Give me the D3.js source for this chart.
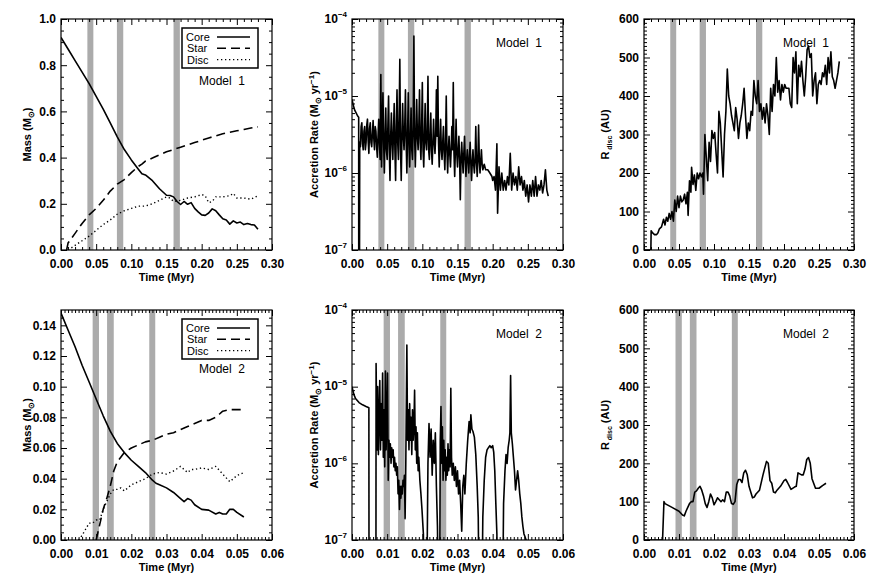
<!DOCTYPE html>
<html><head><meta charset="utf-8">
<script src="https://cdn.jsdelivr.net/npm/d3@7"></script>
<style>body{margin:0;background:#fff}</style>
</head><body>
<svg id="c" width="872" height="581"></svg>
<script>
// ---------------- DATA ----------------
const seriesNames = ["Core", "Star", "Disc"];
const m1Bands = [[0.0375, 0.0460], [0.0795, 0.0885], [0.1600, 0.1690]];
const m2Bands = [[0.0090, 0.0108], [0.0131, 0.0150], [0.0251, 0.0268]];

const m1TimeTicks = [0, 0.05, 0.10, 0.15, 0.20, 0.25, 0.30];
const m2TimeTicks = [0, 0.01, 0.02, 0.03, 0.04, 0.05, 0.06];
const m1MassTicks = [0, 0.2, 0.4, 0.6, 0.8, 1.0];
const m2MassTicks = [0, 0.02, 0.04, 0.06, 0.08, 0.10, 0.12, 0.14];
const rateTicks = [1e-7, 1e-6, 1e-5, 1e-4];
const radiusTicks = [0, 100, 200, 300, 400, 500, 600];

const m1Core = [[0,0.92],[0.01,0.87],[0.02,0.82],[0.03,0.77],[0.04,0.72],[0.05,0.665],[0.06,0.61],[0.07,0.55],[0.08,0.49],[0.09,0.435],[0.10,0.39],[0.11,0.35],[0.115,0.33],[0.12,0.325],[0.13,0.30],[0.14,0.265],[0.15,0.237],[0.155,0.236],[0.16,0.23],[0.165,0.21],[0.17,0.197],[0.175,0.21],[0.18,0.198],[0.185,0.205],[0.19,0.18],[0.195,0.165],[0.20,0.152],[0.205,0.15],[0.21,0.16],[0.215,0.178],[0.22,0.17],[0.225,0.152],[0.23,0.135],[0.235,0.13],[0.24,0.112],[0.245,0.126],[0.25,0.117],[0.255,0.121],[0.26,0.11],[0.265,0.115],[0.27,0.11],[0.275,0.108],[0.28,0.09]];
const m1Star = [[0.008,0],[0.01,0.03],[0.02,0.072],[0.03,0.115],[0.04,0.152],[0.05,0.18],[0.06,0.215],[0.07,0.255],[0.08,0.285],[0.09,0.305],[0.10,0.335],[0.11,0.362],[0.115,0.372],[0.12,0.385],[0.13,0.398],[0.14,0.412],[0.15,0.425],[0.16,0.435],[0.17,0.445],[0.18,0.455],[0.19,0.465],[0.20,0.475],[0.21,0.485],[0.22,0.494],[0.23,0.503],[0.24,0.51],[0.25,0.516],[0.26,0.522],[0.27,0.528],[0.28,0.533]];
const m1Disc = [[0.01,0],[0.02,0.02],[0.03,0.04],[0.04,0.06],[0.05,0.085],[0.06,0.11],[0.07,0.13],[0.08,0.155],[0.09,0.17],[0.10,0.18],[0.11,0.19],[0.12,0.19],[0.13,0.2],[0.14,0.215],[0.15,0.23],[0.155,0.225],[0.16,0.21],[0.17,0.215],[0.18,0.225],[0.19,0.23],[0.20,0.24],[0.205,0.235],[0.21,0.205],[0.215,0.21],[0.22,0.23],[0.23,0.23],[0.24,0.235],[0.245,0.245],[0.25,0.225],[0.26,0.225],[0.27,0.22],[0.28,0.235]];

const m1Rate = [[0,9e-6],[0.002,7.5e-6],[0.004,6.5e-6],[0.006,6e-6],[0.008,5.5e-6],[0.0095,5.3e-6],[0.0096,1e-8],[0.0105,1e-8],[0.011,2.5e-6],
[0.012,2.2e-6],[0.013,4e-6],[0.014,4.5e-6],[0.015,2.4e-6],[0.016,2e-6],[0.017,3.5e-6],[0.018,4e-6],[0.019,2e-6],[0.020,2.5e-6],[0.021,4.2e-6],[0.022,5e-6],[0.023,2.6e-6],[0.024,1.8e-6],[0.025,3.8e-6],[0.026,4.5e-6],[0.027,2.5e-6],[0.028,2.2e-6],[0.029,3.2e-6],[0.030,4.8e-6],[0.031,2.8e-6],[0.032,2e-6],[0.033,4e-6],[0.034,3.5e-6],[0.035,2.2e-6],[0.036,1.6e-6],[0.037,3e-6],[0.038,5e-6],[0.039,2.4e-6],[0.040,1.5e-6],
[0.041,1.9e-5],[0.042,1.2e-6],[0.043,4e-6],[0.044,1.1e-5],[0.045,2.5e-6],[0.046,1e-6],[0.047,3e-6],[0.048,7e-6],[0.049,2e-6],[0.050,1.5e-6],[0.051,4e-6],[0.052,1e-5],[0.053,2e-6],[0.054,8e-7],[0.055,3e-6],[0.056,6e-6],[0.057,2.5e-6],[0.058,1.5e-6],[0.059,3.5e-6],[0.060,8e-6],[0.061,2e-6],[0.062,8e-7],[0.063,4e-6],[0.064,1.2e-5],[0.065,2.5e-6],[0.066,1.5e-6],[0.067,5e-6],[0.068,3e-5],[0.069,2e-6],[0.070,8e-7],[0.071,3e-6],[0.072,8e-6],[0.073,3e-6],[0.074,2e-6],[0.075,4e-6],[0.076,1.2e-5],[0.077,2.5e-6],[0.078,1e-6],[0.079,3e-6],
[0.080,1.1e-5],[0.081,2.5e-6],[0.082,1.2e-6],[0.083,3e-6],[0.084,7e-6],[0.085,2e-6],[0.086,1.5e-6],[0.087,4e-6],[0.088,6e-5],[0.089,3e-6],[0.090,1.2e-6],[0.091,3e-6],[0.092,9e-6],[0.093,3e-6],[0.094,2e-6],[0.095,4e-6],[0.096,1.2e-5],[0.097,2.5e-6],[0.098,1.5e-6],[0.099,4e-6],[0.100,1.5e-5],[0.101,2e-6],[0.102,1.2e-6],[0.103,3e-6],[0.104,8e-6],[0.105,2.5e-6],[0.106,2e-6],[0.107,3.5e-6],[0.108,1.8e-5],[0.109,2e-6],[0.110,1.5e-6],[0.111,3e-6],[0.112,6e-6],[0.113,2e-6],[0.114,1.3e-6],[0.115,2.5e-6],[0.116,5e-6],[0.117,2.5e-6],[0.118,1.8e-6],[0.119,3e-6],[0.120,1.2e-5],[0.121,3e-6],[0.122,1.8e-5],[0.123,2.5e-6],[0.124,1.2e-6],[0.125,2.5e-6],[0.126,5e-6],[0.127,2e-6],[0.128,1.5e-6],[0.129,2.5e-6],
[0.130,4e-6],[0.131,1.8e-6],[0.132,1.1e-6],[0.133,2.5e-6],[0.134,1e-5],[0.135,2e-6],[0.136,1e-6],[0.137,2e-6],[0.138,3e-6],[0.139,1.8e-6],[0.140,1.2e-6],[0.141,2e-6],[0.142,4e-6],[0.143,2e-6],[0.144,1.5e-5],[0.145,1.8e-6],[0.146,9e-7],[0.147,2e-6],[0.148,5e-6],[0.149,1.8e-6],[0.150,1.2e-6],[0.151,2e-6],[0.152,3e-6],[0.153,1.5e-6],[0.154,4.5e-7],[0.155,1.5e-6],[0.156,2.5e-6],[0.157,1.5e-6],[0.158,1e-6],[0.159,1.8e-6],[0.160,3e-6],
[0.161,1.5e-6],[0.162,9e-7],[0.163,1.5e-6],[0.164,2e-6],[0.165,1.4e-6],[0.166,1e-6],[0.167,1.6e-6],[0.168,2.5e-6],[0.169,1.3e-6],[0.170,8e-7],[0.171,1.4e-6],[0.172,2e-6],[0.173,1.3e-6],[0.174,1e-6],[0.175,1.5e-6],[0.176,4e-6],[0.177,1.4e-6],[0.178,9e-7],[0.179,1.5e-6],[0.180,4.2e-6],[0.181,1.5e-6],[0.182,1e-6],[0.183,1.4e-6],[0.184,2e-6],[0.185,1.3e-6],[0.186,1.1e-6],[0.188,1.3e-6],[0.190,1.1e-6],[0.193,1.1e-6],[0.196,1e-6],[0.199,9e-7],
[0.200,8e-7],[0.202,9e-7],[0.204,6e-7],[0.206,2.4e-6],[0.207,3e-7],[0.209,1.2e-6],[0.211,6e-7],[0.213,1e-6],[0.215,6e-7],[0.217,8e-7],[0.219,6e-7],[0.221,9e-7],[0.223,7e-7],[0.225,1.8e-6],[0.227,6e-7],[0.229,1e-6],[0.231,7e-7],[0.233,9e-7],[0.235,6e-7],[0.237,1.2e-6],[0.239,7e-7],[0.241,9e-7],[0.243,6e-7],[0.245,8e-7],[0.247,5e-7],[0.249,7e-7],[0.251,4.2e-7],[0.253,7e-7],[0.255,5e-7],[0.257,8e-7],[0.259,5e-7],[0.261,9e-7],[0.263,5e-7],[0.265,7e-7],[0.267,6e-7],[0.269,8e-7],[0.271,5.5e-7],[0.273,7e-7],[0.275,1.1e-6],[0.277,6e-7],[0.279,5e-7]];

const m1Radius = [[0,0],[0.0098,0],[0.0102,50],[0.012,45],[0.015,40],[0.018,40],[0.02,45],[0.022,55],[0.025,60],[0.028,80],[0.03,65],[0.032,85],[0.034,75],[0.036,95],[0.038,80],[0.040,100],[0.042,75],[0.044,130],[0.046,100],[0.048,140],[0.050,110],[0.052,140],[0.054,125],[0.056,130],[0.058,145],[0.060,120],[0.062,150],[0.063,90],[0.065,180],[0.067,150],[0.068,215],[0.070,170],[0.072,195],[0.074,155],[0.076,200],[0.078,185],[0.080,200],[0.082,190],[0.084,200],[0.085,145],[0.087,300],[0.089,240],[0.091,180],[0.093,280],[0.095,230],[0.097,310],[0.099,290],[0.101,305],[0.103,250],[0.105,200],[0.107,360],[0.109,330],[0.111,260],[0.113,190],[0.115,300],[0.117,360],[0.119,470],[0.121,400],[0.123,380],[0.125,350],[0.127,330],[0.129,310],[0.131,370],[0.133,340],[0.135,290],[0.137,330],[0.139,350],[0.141,380],[0.143,420],[0.145,350],[0.147,290],[0.149,330],[0.151,310],[0.153,360],[0.155,350],[0.157,440],[0.159,400],[0.161,380],[0.163,440],[0.165,360],[0.167,380],[0.169,340],[0.171,370],[0.173,330],[0.175,380],[0.177,350],[0.179,300],[0.181,420],[0.183,360],[0.185,430],[0.187,400],[0.189,500],[0.191,410],[0.193,440],[0.195,390],[0.197,430],[0.199,410],[0.201,430],[0.203,420],[0.205,420],[0.207,420],[0.209,380],[0.211,370],[0.213,500],[0.215,460],[0.217,515],[0.219,380],[0.221,480],[0.223,450],[0.225,490],[0.227,440],[0.229,400],[0.231,450],[0.233,520],[0.235,530],[0.237,500],[0.239,510],[0.241,400],[0.243,440],[0.245,460],[0.247,380],[0.249,430],[0.251,440],[0.253,430],[0.255,460],[0.257,450],[0.259,480],[0.261,430],[0.263,500],[0.265,460],[0.267,515],[0.269,450],[0.271,440],[0.273,420],[0.275,440],[0.277,460],[0.279,490]];

const m2Core = [[0,0.148],[0.002,0.137],[0.004,0.126],[0.006,0.114],[0.008,0.103],[0.010,0.092],[0.012,0.081],[0.014,0.071],[0.016,0.063],[0.018,0.057],[0.020,0.052],[0.022,0.048],[0.024,0.044],[0.026,0.039],[0.027,0.037],[0.028,0.036],[0.030,0.034],[0.032,0.031],[0.034,0.027],[0.035,0.025],[0.036,0.027],[0.037,0.026],[0.038,0.023],[0.040,0.020],[0.042,0.0195],[0.044,0.017],[0.045,0.018],[0.046,0.017],[0.047,0.017],[0.048,0.020],[0.049,0.020],[0.050,0.018],[0.052,0.015]];
const m2Star = [[0.0100,0],[0.0105,0.005],[0.012,0.02],[0.013,0.027],[0.014,0.035],[0.015,0.045],[0.016,0.051],[0.017,0.054],[0.018,0.057],[0.020,0.06],[0.022,0.062],[0.024,0.064],[0.026,0.065],[0.028,0.067],[0.030,0.069],[0.032,0.07],[0.034,0.072],[0.036,0.074],[0.038,0.076],[0.040,0.078],[0.042,0.078],[0.044,0.08],[0.045,0.082],[0.046,0.084],[0.048,0.085],[0.050,0.085],[0.052,0.085]];
const m2Disc = [[0.005,0],[0.006,0.003],[0.007,0.007],[0.008,0.011],[0.009,0.011],[0.010,0.013],[0.011,0.013],[0.012,0.02],[0.013,0.025],[0.014,0.03],[0.015,0.033],[0.016,0.033],[0.017,0.034],[0.018,0.032],[0.019,0.034],[0.020,0.036],[0.022,0.038],[0.024,0.040],[0.026,0.043],[0.028,0.044],[0.030,0.043],[0.032,0.045],[0.034,0.048],[0.036,0.044],[0.037,0.046],[0.038,0.046],[0.040,0.047],[0.042,0.046],[0.044,0.048],[0.046,0.043],[0.048,0.038],[0.050,0.042],[0.052,0.044]];

const m2Rate = [[0,1.0e-5],[0.0005,8e-6],[0.001,7e-6],[0.002,6.2e-6],[0.003,5.8e-6],[0.004,5.5e-6],[0.0048,5.3e-6],[0.00485,1e-8],[0.0068,1e-8],[0.00685,2e-5],[0.0071,1.5e-6],[0.0073,1e-5],[0.0075,1.3e-6],[0.0077,4e-6],[0.0079,1.2e-5],[0.0081,1.5e-6],[0.0083,6e-6],[0.0085,2e-6],[0.0087,1.5e-5],[0.0089,1.2e-6],[0.0091,5e-6],[0.0093,9e-7],[0.0095,1.6e-5],[0.0097,1.5e-6],[0.0099,4e-6],[0.0101,1.5e-5],[0.0103,6e-7],[0.0105,2e-6],[0.0107,1.2e-6],[0.0109,1.8e-6],[0.0111,1e-6],[0.0113,1.6e-6],[0.0115,1.2e-6],[0.0117,1.5e-6],[0.0119,9e-7],[0.0121,1.2e-6],[0.0123,8e-7],[0.0125,1e-6],[0.0127,7e-7],[0.0129,9e-7],[0.0131,4e-7],[0.0133,6e-7],[0.0135,2.5e-7],[0.0137,5e-7],[0.0139,3.5e-7],[0.0141,5e-7],[0.0143,4e-7],[0.0145,6e-7],[0.0147,5e-7],[0.0149,7e-7],[0.0151,1.9e-7],[0.0153,1e-6],[0.0156,3.5e-5],[0.0158,2e-6],[0.016,5e-6],[0.0162,1.5e-6],[0.0164,6e-6],[0.0166,2e-6],[0.0168,4e-6],[0.017,1.3e-6],[0.0172,5e-6],[0.0174,2e-6],[0.0176,3e-6],[0.0178,9e-6],[0.018,1.5e-6],[0.0182,3e-6],[0.0184,1e-6],[0.0186,2.5e-6],[0.0188,8e-7],[0.019,1.2e-6],[0.0193,6e-7],[0.0196,4e-7],[0.0199,2.5e-7],[0.0203,1.2e-7],[0.0206,1e-8],[0.0212,1e-8],[0.0216,1e-6],[0.0219,3.3e-6],[0.0222,1.2e-6],[0.0225,2.8e-6],[0.0228,7e-7],[0.0231,2e-6],[0.0234,1e-6],[0.0237,2.5e-6],[0.024,5e-7],[0.0243,1.5e-7],[0.0246,1e-8],[0.0249,1e-8],[0.0251,2e-6],[0.0253,5.5e-6],[0.0255,1e-6],[0.0257,3e-6],[0.0259,6e-7],[0.0261,2e-6],[0.0263,8e-7],[0.0265,1.5e-6],[0.0267,6e-7],[0.0269,1.2e-6],[0.0271,7e-7],[0.0273,1.8e-6],[0.0275,8e-7],[0.0277,1.5e-6],[0.0279,9e-7],[0.0281,9.5e-6],[0.0283,1.2e-6],[0.0285,7e-7],[0.0288,1e-6],[0.0291,6e-7],[0.0294,9e-7],[0.0297,5e-7],[0.03,8e-7],[0.0303,4e-7],[0.0306,6e-7],[0.0309,3e-7],[0.0312,1.3e-7],[0.0315,5e-7],[0.0318,7e-7],[0.0321,4e-7],[0.0325,1e-6],[0.0329,2e-6],[0.0333,3.5e-6],[0.0336,2.5e-6],[0.0338,4.3e-6],[0.0341,2.8e-6],[0.0344,2.6e-6],[0.0348,2.2e-6],[0.0352,1.3e-6],[0.0356,5e-7],[0.0359,2e-7],[0.0362,1e-8],[0.0369,1e-8],[0.0372,2e-7],[0.0376,6e-7],[0.038,1.2e-6],[0.0384,1.5e-6],[0.0388,1.6e-6],[0.0392,1.7e-6],[0.0396,1.6e-6],[0.04,1.7e-6],[0.0403,1.4e-6],[0.0406,8e-7],[0.0409,3e-7],[0.0412,1.2e-7],[0.0414,1e-8],[0.0428,1e-8],[0.0431,3e-7],[0.0435,8e-7],[0.0438,1.3e-6],[0.0441,1e-6],[0.0444,1.6e-6],[0.0447,2e-6],[0.0449,2.5e-6],[0.0451,1.4e-5],[0.0453,2.5e-6],[0.0456,1.8e-6],[0.0459,1.2e-6],[0.0462,8e-7],[0.0465,4.5e-7],[0.0468,6e-7],[0.0471,8e-7],[0.0474,6e-7],[0.0477,4e-7],[0.048,3e-7],[0.0483,2e-7],[0.0486,1.5e-7],[0.0489,1.2e-7],[0.0492,1.1e-7],[0.0495,1e-7],[0.0498,8e-8]];

const m2Radius = [[0,0],[0.0053,0],[0.0057,100],[0.006,95],[0.008,85],[0.010,75],[0.011,65],[0.0115,63],[0.012,75],[0.013,95],[0.0135,100],[0.014,100],[0.0145,125],[0.015,128],[0.0155,135],[0.016,140],[0.0165,130],[0.017,115],[0.0175,95],[0.018,85],[0.0185,100],[0.019,120],[0.0195,110],[0.020,92],[0.0205,100],[0.021,110],[0.0215,105],[0.022,100],[0.0225,105],[0.023,100],[0.0235,125],[0.024,125],[0.0245,115],[0.025,95],[0.0255,93],[0.026,100],[0.0265,145],[0.027,158],[0.0275,158],[0.028,150],[0.0285,175],[0.029,182],[0.0295,170],[0.030,140],[0.031,110],[0.0315,112],[0.032,120],[0.033,130],[0.034,170],[0.035,205],[0.0355,200],[0.036,155],[0.0365,148],[0.037,125],[0.0375,123],[0.038,130],[0.039,140],[0.040,155],[0.0405,158],[0.041,150],[0.042,132],[0.043,138],[0.0435,140],[0.044,175],[0.045,170],[0.0455,170],[0.046,185],[0.0465,210],[0.047,215],[0.0475,200],[0.048,160],[0.049,135],[0.050,135],[0.051,142],[0.052,148]];

// ---------------- DRAWING ----------------
const svg = d3.select("#c");
const FONT = "'Liberation Sans', Arial, Helvetica, sans-serif";
const defs = svg.append("defs");
const DASH = {Core: null, Star: "9,5", Disc: "1.3,2.7"};

function minorBetween(ticks, n, dom) {
  const out = [];
  const step = ticks[1] - ticks[0];
  const ext = ticks.concat([ticks[ticks.length - 1] + step]);
  for (let i = 0; i < ext.length - 1; i++) {
    const a = ext[i], b = ext[i+1];
    for (let k = 1; k < n; k++) {
      const v = a + (b - a) * k / n;
      if (v > dom[0] && v < dom[1] - 1e-12) out.push(v);
    }
  }
  return out;
}

function panel(o) {
  const g = svg.append("g");
  const x = d3.scaleLinear().domain(o.xDomain).range([o.left, o.right]);
  const y = (o.log ? d3.scaleLog() : d3.scaleLinear()).domain(o.yDomain).range([o.bottom, o.top]);
  const id = "clip" + o.id;
  defs.append("clipPath").attr("id", id).append("rect")
    .attr("x", o.left).attr("y", o.top).attr("width", o.right - o.left).attr("height", o.bottom - o.top);

  g.append("g").selectAll("rect").data(o.bands).join("rect")
    .attr("x", d => x(d[0])).attr("width", d => x(d[1]) - x(d[0]))
    .attr("y", o.top).attr("height", o.bottom - o.top).attr("fill", "#ababab");

  const line = d3.line().x(d => x(d[0])).y(d => y(d[1]));
  o.series.forEach(s => {
    g.append("path").datum(s.data).attr("clip-path", `url(#${id})`)
      .attr("d", line).attr("fill", "none").attr("stroke", "#000")
      .attr("stroke-width", s.name === "Disc" ? 1.4 : 1.6)
      .attr("stroke-linejoin", "round")
      .attr("stroke-dasharray", DASH[s.name] || null);
  });

  const xMinor = minorBetween(o.xTicks, o.xMinor, o.xDomain);
  const addAxis = (gen, transform, vals, size, fmt) => {
    const a = g.append("g").attr("transform", transform)
      .call(gen.tickValues(vals).tickSize(size).tickSizeOuter(0).tickFormat(fmt));
    a.select(".domain").remove();
    a.selectAll("line").attr("stroke", "#000").attr("stroke-width", 1);
    return a;
  };
  const bx = addAxis(d3.axisBottom(x), `translate(0,${o.bottom})`, o.xTicks, -6, d3.format(".2f"));
  bx.selectAll("text").attr("y", 9).attr("font-family", FONT).attr("font-size", 12).attr("font-weight", "bold").attr("fill", "#000");
  addAxis(d3.axisBottom(x), `translate(0,${o.bottom})`, xMinor, -3, "");
  addAxis(d3.axisTop(x), `translate(0,${o.top})`, o.xTicks, -6, "");
  addAxis(d3.axisTop(x), `translate(0,${o.top})`, xMinor, -3, "");

  let yMinor;
  if (o.log) {
    yMinor = [];
    for (let e = -7; e < -4; e++) for (let m = 2; m <= 9; m++) yMinor.push(m * Math.pow(10, e));
  } else yMinor = minorBetween(o.yTicks, o.yMinor, o.yDomain);
  const ly = addAxis(d3.axisLeft(y), `translate(${o.left},0)`, o.yTicks, -6, o.log ? "" : d3.format(o.yFmt));
  addAxis(d3.axisLeft(y), `translate(${o.left},0)`, yMinor, -3, "");
  addAxis(d3.axisRight(y), `translate(${o.right},0)`, o.yTicks, -6, "");
  addAxis(d3.axisRight(y), `translate(${o.right},0)`, yMinor, -3, "");
  if (!o.log) {
    ly.selectAll("text").attr("x", -5).attr("font-family", FONT).attr("font-size", 12).attr("font-weight", "bold").attr("fill", "#000");
  } else {
    ly.selectAll("text").remove();
    ly.selectAll(".tick").each(function(d) {
      const t = d3.select(this).append("text").attr("x", -5).attr("dy", "0.32em")
        .attr("text-anchor", "end").attr("font-family", FONT).attr("font-weight", "bold").attr("fill", "#000");
      t.append("tspan").attr("font-size", 12).text("10");
      t.append("tspan").attr("font-size", 8).attr("dy", "-0.7em").text(String(Math.round(Math.log10(d))).replace("-", "\u2212"));
    });
  }

  g.append("rect").attr("x", o.left).attr("y", o.top).attr("width", o.right - o.left)
    .attr("height", o.bottom - o.top).attr("fill", "none").attr("stroke", "#000").attr("stroke-width", 1.2);

  g.append("text").attr("x", (o.left + o.right) / 2).attr("y", o.bottom + 31).attr("text-anchor", "middle")
    .attr("font-family", FONT).attr("font-size", 11).attr("font-weight", "bold").text("Time (Myr)");

  const yt = g.append("text").attr("transform", `translate(${o.yTitleX},${(o.top + o.bottom) / 2}) rotate(-90)`)
    .attr("text-anchor", "middle").attr("font-family", FONT).attr("font-size", 11).attr("font-weight", "bold");
  o.yTitle(yt);

  g.append("text").attr("x", o.labelX).attr("y", o.top + o.labelDy).attr("text-anchor", "middle")
    .attr("font-family", FONT).attr("font-size", 12).attr("xml:space", "preserve").style("white-space", "pre").text(o.label);

  if (o.legend) {
    const lg = g.append("g").attr("transform", `translate(${o.left + 121},${o.top + 9})`);
    lg.append("rect").attr("width", 76).attr("height", 40).attr("fill", "#fff").attr("stroke", "#000").attr("stroke-width", 1.5);
    seriesNames.forEach((n, i) => {
      const yy = 9 + i * 11.3;
      lg.append("text").attr("x", n === "Core" ? 4 : 5).attr("y", yy + 4).attr("font-family", FONT).attr("font-size", 11).text(n);
      lg.append("line").attr("x1", 35).attr("x2", 68).attr("y1", yy).attr("y2", yy)
        .attr("stroke", "#000").attr("stroke-width", n === "Disc" ? 1.4 : 1.6).attr("stroke-dasharray", DASH[n]);
    });
  }
}

const massTitle = t => { t.append("tspan").text("Mass (M"); t.append("tspan").attr("font-size", 8).attr("dy", 3).text("\u2299"); t.append("tspan").attr("dy", -3).text(")"); };
const rateTitle = t => { t.append("tspan").text("Accretion Rate (M"); t.append("tspan").attr("font-size", 8).attr("dy", 3).text("\u2299"); t.append("tspan").attr("dy", -3).text(" yr"); t.append("tspan").attr("font-size", 8).attr("dy", -4).text("\u22121"); t.append("tspan").attr("dy", 4).text(")"); };
const radTitle = t => { t.append("tspan").text("R"); t.append("tspan").attr("font-size", 7).attr("dy", 3).text(" disc"); t.append("tspan").attr("dy", -3).text("  (AU)"); };

const rows = [
  {top: 19, bottom: 250, xDomain: [0, 0.30], xTicks: m1TimeTicks, xMinor: 5, bands: m1Bands, label: "Model  1", mass: {data: [m1Core, m1Star, m1Disc], ticks: m1MassTicks, dom: [0, 1], fmt: ".1f"}, rate: m1Rate, rad: m1Radius},
  {top: 310, bottom: 540, xDomain: [0, 0.06], xTicks: m2TimeTicks, xMinor: 10, bands: m2Bands, label: "Model  2", mass: {data: [m2Core, m2Star, m2Disc], ticks: m2MassTicks, dom: [0, 0.15], fmt: ".2f"}, rate: m2Rate, rad: m2Radius}
];

rows.forEach((r, i) => {
  const common = {top: r.top, bottom: r.bottom, xDomain: r.xDomain, xTicks: r.xTicks, xMinor: r.xMinor, bands: r.bands};
  panel(Object.assign({}, common, {
    id: "m" + i, left: 61, right: 272, yDomain: r.mass.dom, yTicks: r.mass.ticks, yFmt: r.mass.fmt, yMinor: 4,
    series: r.mass.data.map((d, k) => ({name: seriesNames[k], data: d})),
    yTitleX: 31, yTitle: massTitle, label: r.label, labelX: 222, labelDy: i === 0 ? 66 : 63, legend: true
  }));
  panel(Object.assign({}, common, {
    id: "r" + i, left: 352, right: 563, log: true, yDomain: [1e-7, 1e-4], yTicks: rateTicks,
    series: [{name: "Core", data: r.rate}],
    yTitleX: 318, yTitle: rateTitle, label: r.label, labelX: 519, labelDy: 28
  }));
  panel(Object.assign({}, common, {
    id: "d" + i, left: 644, right: 854, yDomain: [0, 600], yTicks: radiusTicks, yFmt: "d", yMinor: 10,
    series: [{name: "Core", data: r.rad}],
    yTitleX: 609, yTitle: radTitle, label: r.label, labelX: 806, labelDy: 28
  }));
});
</script>
</body></html>
